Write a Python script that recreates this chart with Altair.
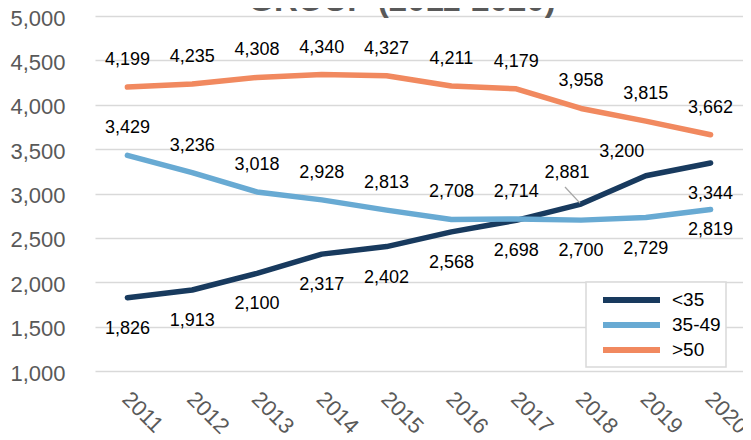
import altair as alt
import pandas as pd

# ---- data ----
YEARS = [2011, 2012, 2013, 2014, 2015, 2016, 2017, 2018, 2019, 2020]
GROUPS = ["<35", "35-49", ">50"]
UNDER_35 = [1826, 1913, 2100, 2317, 2402, 2568, 2698, 2881, 3200, 3344]
AGE_35_49 = [3429, 3236, 3018, 2928, 2813, 2708, 2714, 2700, 2729, 2819]
OVER_50 = [4199, 4235, 4308, 4340, 4327, 4211, 4179, 3958, 3815, 3662]
Y_TICKS = [1000, 1500, 2000, 2500, 3000, 3500, 4000, 4500, 5000]
TITLE = "GROUP (2011-2020)"

# ---- style ----
COLORS = ["#183A5E", "#68AAD3", "#F1895F"]
FONT = "Liberation Sans"
GREY = "#595959"
GRID = "#D9D9D9"

# label placement (style): which data labels sit below their line,
# plus a few hand-placed ones as in the reference
BELOW = {
    "<35": {2011, 2012, 2013, 2014, 2015, 2016, 2017, 2020},
    "35-49": {2018, 2019, 2020},
    ">50": set(),
}
SPECIAL = {("<35", 2018): "lead", ("<35", 2019): "upleft", ("35-49", 2020): "near"}

rows = []
for g, vals in zip(GROUPS, [UNDER_35, AGE_35_49, OVER_50]):
    for yr, v in zip(YEARS, vals):
        pos = SPECIAL.get((g, yr)) or ("below" if yr in BELOW[g] else "above")
        rows.append({"year": yr, "group": g, "value": v, "pos": pos})
df = pd.DataFrame(rows)

x_scale = alt.Scale(domain=[2010.5, 2020.5], nice=False, zero=False)
y_scale = alt.Scale(domain=[1000, 5000], nice=False, zero=False)
x_axis = alt.Axis(
    values=YEARS, format="d", labelAngle=45, labelAlign="left", labelBaseline="top",
    labelPadding=17, labelOffset=5, labelFontSize=22, labelColor=GREY, labelFont=FONT,
    grid=False, ticks=False, domain=False, labelOverlap=False, labelFlush=False,
)
y_axis = alt.Axis(
    values=Y_TICKS, format=",d", labelFontSize=22, labelColor=GREY, labelFont=FONT,
    labelPadding=30, labelOffset=2, ticks=False, domain=False, grid=True,
    gridColor=GRID, gridWidth=1.5, labelFlush=False,
)


def X(field):
    return alt.X(field, title=None, scale=x_scale, axis=x_axis)


def Y(field):
    return alt.Y(field, title=None, scale=y_scale, axis=y_axis)


color_enc = alt.Color(
    "group:N",
    scale=alt.Scale(domain=GROUPS, range=COLORS),
    legend=alt.Legend(
        title=None, orient="none", legendX=491, legendY=266,
        symbolType="M-1,0H4.7", symbolSize=400, symbolStrokeWidth=6, symbolOffset=9,
        labelOffset=46, labelFontSize=19, labelColor="black", labelFont=FONT,
        padding=5, rowPadding=0, strokeColor=GRID, fillColor="white",
        labelExpr="datum.label + '  '",
    ),
)

base = alt.Chart(df)

lines = base.mark_line(strokeWidth=5.5, strokeCap="round", strokeJoin="round").encode(
    x=X("year:Q"), y=Y("value:Q"), color=color_enc
)


def labels(pos, dx=0, dy=0):
    return base.transform_filter(alt.datum.pos == pos).mark_text(
        dx=dx, dy=dy, fontSize=18, font=FONT, color="black", baseline="middle"
    ).encode(
        x=X("year:Q"),
        y=Y("value:Q"),
        text=alt.Text("value:Q", format=","),
    )


above = labels("above", dy=-27)
below = labels("below", dy=31)
lead = labels("lead", dx=-14, dy=-31)
upleft = labels("upleft", dx=-24, dy=-24)
near = labels("near", dy=20)

leader = base.transform_filter(alt.datum.pos == "lead").transform_calculate(
    lx1="datum.year - 0.015", lx2="datum.year - 0.247",
    ly1="datum.value + 11", ly2="datum.value + 192",
).mark_rule(color="#A6A6A6", strokeWidth=1.3).encode(
    x=X("lx1:Q"), x2="lx2:Q",
    y=Y("ly1:Q"), y2="ly2:Q",
)

chart = alt.layer(lines, leader, above, below, lead, upleft, near).properties(
    width=648,
    height=355,
    padding={"left": 87, "top": 8, "right": 0, "bottom": 69},
    autosize=alt.AutoSizeParams(type="none"),
    title=alt.TitleParams(
        TITLE, fontSize=33, fontWeight="bold", color=GREY, font=FONT,
        anchor="middle", frame="group", dx=-17, dy=37, offset=0, baseline="alphabetic",
    ),
).configure_view(stroke=None).configure_legend(strokeWidth=1.5)

chart.save("out.html", embed_options={"renderer": "svg", "actions": False})
